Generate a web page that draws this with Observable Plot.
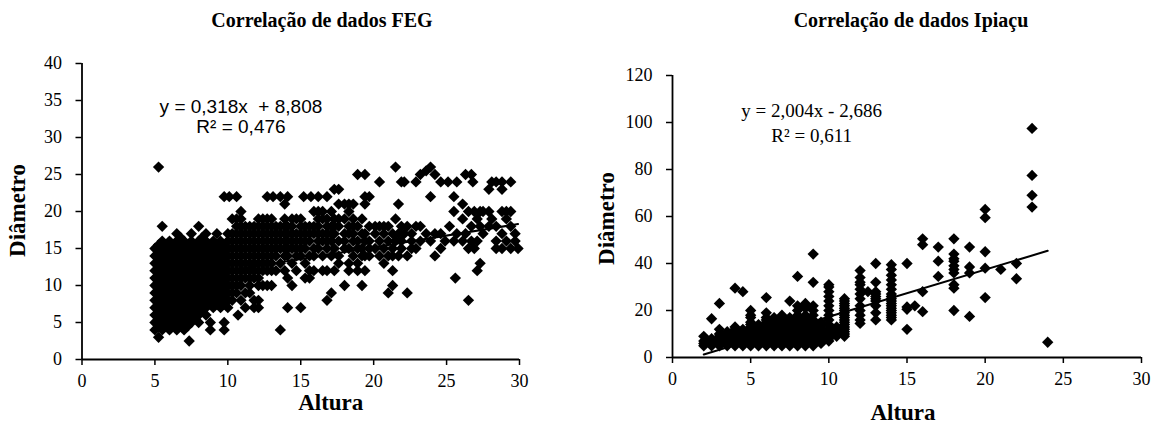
<!DOCTYPE html>
<html><head><meta charset="utf-8">
<script src="https://cdn.jsdelivr.net/npm/d3@7"></script>
<script src="https://cdn.jsdelivr.net/npm/@observablehq/plot@0.6"></script>
<style>
body{margin:0;background:#fff;}
#wrap{position:relative;width:1157px;height:430px;overflow:hidden;font-family:"Liberation Serif","Times New Roman",serif;color:#000;}
.panel{position:absolute;top:0;height:430px;}
.title{position:absolute;font-weight:bold;font-size:20px;white-space:nowrap;transform:translate(-50%,-50%);line-height:1;}
</style></head><body>
<div id="wrap"></div>
<script>
// ---------- texts ----------
const fegTitle = "Correlação de dados FEG";
const ipiTitle = "Correlação de dados Ipiaçu";
const xLabel = "Altura";
const yLabel = "Diâmetro";
const fegEquation = ["y = 0,318x\u00a0 + 8,808", "R² = 0,476"];
const ipiEquation = ["y = 2,004x - 2,686", "R² = 0,611"];

// ---------- ticks ----------
const fegXTicks = [0, 5, 10, 15, 20, 25, 30];
const fegYTicks = [0, 5, 10, 15, 20, 25, 30, 35, 40];
const ipiXTicks = [0, 5, 10, 15, 20, 25, 30];
const ipiYTicks = [0, 20, 40, 60, 80, 100, 120];

// ---------- trend lines (end points) ----------
const fegTrendAltura = [5, 29.9];
const fegTrendDiametro = [10.4, 18.3];
const ipiTrendAltura = [2, 24];
const ipiTrendDiametro = [1.3, 45.4];

// ---------- FEG data: [altura, [diametros...]] ----------
const fegColumns = [
  [5.0,[4,5,6,7,8,9,10,11,12,13,14,15]],
  [5.25,[3,4.5,5.5,6.5,7.5,8.5,9.5,10.5,11.5,12.5,13.5,14.5,15.5,26]],
  [5.5,[4,5,6,7,8,9,10,11,12,13,14,15,16,18]],
  [5.75,[4.5,5.5,6.5,7.5,8.5,9.5,10.5,11.5,12.5,13.5,14.5,15.5]],
  [6.0,[4,5,6,7,8,9,10,11,12,13,14,15,16]],
  [6.25,[4.5,5.5,6.5,7.5,8.5,9.5,10.5,11.5,12.5,13.5,14.5,15.5]],
  [6.5,[4,5,6,7,8,9,10,11,12,13,14,15,16,17]],
  [6.75,[4.5,5.5,6.5,7.5,8.5,9.5,10.5,11.5,12.5,13.5,14.5,15.5,16.5]],
  [7.0,[4,5,6,7,8,9,10,11,12,13,14,15,16]],
  [7.25,[4.5,5.5,6.5,7.5,8.5,9.5,10.5,11.5,12.5,13.5,14.5,15.5]],
  [7.35,[2.5]],
  [7.5,[5,6,7,8,9,10,11,12,13,14,15,16,17]],
  [7.75,[5.5,6.5,7.5,8.5,9.5,10.5,11.5,12.5,13.5,14.5,15.5]],
  [8.0,[5,6,7,8,9,10,11,12,13,14,15,16,18]],
  [8.25,[6.5,7.5,8.5,9.5,10.5,11.5,12.5,13.5,14.5,15.5,16.5]],
  [8.5,[6,7,8,9,10,11,12,13,14,15,16,17]],
  [8.8,[4,5,7.5,8.5,9.5,10.5,11.5,12.5,13.5,14.5,15.5]],
  [9.0,[7,8,9,10,11,12,13,14,15,16]],
  [9.25,[7.5,8.5,9.5,10.5,11.5,12.5,13.5,14.5,15.5,17]],
  [9.5,[7,8,9,10,11,12,13,14,15,16]],
  [9.75,[4,5,7.5,8.5,9.5,10.5,11.5,12.5,13.5,14.5,15.5,22]],
  [10.0,[7,8,9,10,11,12,13,14,15,16,17]],
  [10.1,[22]],
  [10.3,[8,9,10,11,12,13,14,15,16,17,19]],
  [10.6,[9,10,11,12,13,14,15,16,17,18,19,22]],
  [10.7,[6]],
  [10.9,[8,10,11,12,13,14,15,16,17,18,19,20]],
  [11.2,[7,9,11,12,13,14,15,16,17,18]],
  [11.5,[9,10,11,12,13,14,15,16,17,18]],
  [11.8,[7,8,11,12,13,14,15,16,17,18]],
  [12.1,[7,8,10,11,12,13,14,15,16,17,18,19]],
  [12.4,[10,12,13,14,15,16,17,18,19]],
  [12.7,[10,12,13,14,15,16,17,18,19,22]],
  [13.0,[10,12,13,14,15,16,17,18,19]],
  [13.1,[22]],
  [13.3,[12,14,15,16,17,18]],
  [13.6,[4,13,15,16,17,18,22]],
  [13.9,[12,14,15,16,17,18,19,21]],
  [14.1,[7,11,14,15,16,17,18,22]],
  [14.4,[10,13,15,16,17,18,19]],
  [14.7,[12,14,15,16,17,19]],
  [15.0,[7,14,15,16,17,18,19]],
  [15.2,[22]],
  [15.3,[11,13,15,16,17,18]],
  [15.6,[11,12,14,16,17,18]],
  [15.7,[22]],
  [15.9,[12,14,15,17,18,20]],
  [16.2,[15,16,17,18,19,20,22]],
  [16.5,[12,14,16,17,19,20]],
  [16.8,[8,12,15,16,17,18,19,22]],
  [17.1,[9,14,16,17,18,20]],
  [17.3,[12,15,17,18,19,23]],
  [17.6,[13,14,16,18,19,21,23]],
  [18.0,[10,15,16,17,19,21]],
  [18.3,[12,13,15,17,18,20,21]],
  [18.6,[14,16,17,18,19,21]],
  [18.9,[12,13,15,16,18,25]],
  [19.2,[10,14,15,17,19]],
  [19.4,[12,14,16,17,21,22,25]],
  [19.7,[14,15,16,18,22]],
  [20.1,[15,17,18]],
  [20.4,[14,16,18,24]],
  [20.7,[13,15,17,18]],
  [21.0,[9,14,16,18]],
  [21.3,[10,12,14,15,17]],
  [21.5,[16,19,26]],
  [21.7,[14,17,21]],
  [21.9,[15,16,18,24]],
  [22.1,[17,24]],
  [22.3,[9,14,18]],
  [22.6,[15,16,17]],
  [22.9,[15,18,24]],
  [23.2,[16,18,25]],
  [23.6,[17,25.5]],
  [23.9,[16,22,26]],
  [24.2,[14,17,25]],
  [24.6,[15,17,24]],
  [24.9,[16]],
  [25.1,[24]],
  [25.2,[18]],
  [25.5,[16,20,22]],
  [25.6,[11]],
  [25.7,[17,24]],
  [26.1,[16,19,21]],
  [26.3,[17,25]],
  [26.5,[8,15,20]],
  [26.7,[16,18,25]],
  [26.8,[24]],
  [26.9,[15,20]],
  [27.1,[12,16,19]],
  [27.3,[13,18,20]],
  [27.5,[17,20]],
  [27.9,[18,20,23]],
  [28.1,[19,24]],
  [28.4,[15,16,18,24]],
  [28.8,[15,17,20,23,24]],
  [29.1,[16,19,20]],
  [29.4,[15,18,20,24]],
  [29.7,[16,17]],
  [29.9,[15]]
];

// ---------- Ipiaçu data: [altura, [diametros...]] ----------
const ipiColumns = [
  [2.0,[5,6,7,9]],
  [2.5,[5,6,7,8,16.5]],
  [3.0,[5,6,7,8,9,10,12,23]],
  [3.5,[5,6,7,8,9,10,11]],
  [4.0,[5,6,7,8,9,10,11,12,13,29.5]],
  [4.5,[5,6,7,8,9,10,11,12,28]],
  [5.0,[5,6,7,8,9,10,11,12,13,14,15,17,18,20]],
  [5.5,[5,6,7,8,9,10,11,12,13,14]],
  [6.0,[5,6,7,8,9,10,11,12,13,14,15,16,17,19,25.5]],
  [6.5,[5,6,7,8,9,10,11,12,13,14,15,16,17]],
  [7.0,[5,6,7,8,9,10,11,12,13,14,15,16,17,18]],
  [7.5,[5,6,7,8,9,10,11,12,13,14,15,16,17,24]],
  [8.0,[5,6,7,8,9,10,11,12,13,14,15,16,17,18,20,22,34.5]],
  [8.5,[5,6,7,8,9,10,11,12,13,14,15,16,17,18,21,23]],
  [9.0,[5,6,7,8,9,10,11,12,13,14,15,16,18,20,22,32,44]],
  [9.5,[6,7,8,9,10,11,12,13,14,15]],
  [10.0,[7,8,9,10,12,14,16,18,20,22,24,26,28,30,31]],
  [10.5,[9,10,11,12,13]],
  [11.0,[9,10,11,12,13,14,15,16,17,18,19,20,21,22,23,24,25]],
  [12.0,[14.5,16,18,20,22,25,27,29,31,32,34,37]],
  [12.5,[28]],
  [13.0,[16,19,22,24,25,26,27,28,32,40]],
  [14.0,[16,17,18,19,20,21,22,23,24,25,26,27,29,31,33,35,37.5,39.5]],
  [15.0,[12,20.5,21.5,40]],
  [15.5,[22]],
  [16.0,[19.5,28,48,50.5]],
  [17.0,[34.5,41,47]],
  [18.0,[20,29.5,31,36,37.5,39,41,42,44,50.5]],
  [19.0,[17.5,36,38.5,47]],
  [20.0,[25.5,38,45,59.5,63]],
  [21.0,[37.5]],
  [22.0,[33.5,40]],
  [23.0,[64,69,77.5,97.5]],
  [24.0,[6.5]]
];

// ---------- drawing ----------
const serif = "'Liberation Serif','Times New Roman',serif";
const sans = "'Liberation Sans',Arial,sans-serif";

function flatten(cols) {
  return cols.flatMap(([a, ds]) => ds.map(d => ({altura: a, diametro: d})));
}

function makeChart(cfg) {
  const pts = flatten(cfg.columns);
  const trend = cfg.trendX.map((a, i) => ({altura: a, diametro: cfg.trendY[i]}));
  const eq = cfg.equation.map((t, i) => ({t, altura: cfg.eqX, diametro: cfg.eqY[i]}));
  return Plot.plot({
    width: cfg.width, height: 430,
    marginLeft: cfg.ml, marginRight: cfg.mr, marginTop: cfg.mt, marginBottom: cfg.mb,
    style: {fontFamily: serif, fontSize: "18px", color: "#000", background: "transparent", overflow: "visible"},
    x: {domain: [0, 30], label: null},
    y: {domain: cfg.yDomain, label: null},
    marks: [
      Plot.axisX(cfg.xTicks, {tickSize: 6, tickPadding: 9, label: null, fontSize: 18, strokeWidth: 1.5}),
      Plot.axisY(cfg.yTicks, {tickSize: 6, tickPadding: 14, label: null, fontSize: 18, strokeWidth: 1.5}),
      Plot.dot(pts, {x: "altura", y: "diametro", symbol: "diamond2", r: 5.1, fill: "#000"}),
      Plot.line(trend, {x: "altura", y: "diametro", stroke: "#000", strokeWidth: 2}),
      Plot.ruleX([0], {stroke: "#000", strokeWidth: 1.8}),
      Plot.ruleY([0], {stroke: "#000", strokeWidth: 1.8}),
      Plot.text(eq, {x: "altura", y: "diametro", text: "t", fontFamily: cfg.eqFont, fontSize: cfg.eqSize}),
      Plot.text([xLabel], {frameAnchor: "bottom", textAnchor: "middle", lineAnchor: "middle",
        dx: cfg.xlDx, dy: cfg.xlDy, fontWeight: "bold", fontSize: 23}),
      Plot.text([yLabel], {frameAnchor: "left", textAnchor: "middle", lineAnchor: "middle",
        dx: cfg.ylDx, dy: cfg.ylDy, rotate: -90, fontWeight: "bold", fontSize: 23})
    ]
  });
}

const panels = [
  {left: 0, width: 580, ml: 81.5, mr: 61, mt: 63, mb: 71,
   columns: fegColumns, xTicks: fegXTicks, yTicks: fegYTicks, yDomain: [0, 40],
   trendX: fegTrendAltura, trendY: fegTrendDiametro,
   equation: fegEquation, eqX: 10.9, eqY: [34.2, 31.4], eqFont: sans, eqSize: 19,
   xlDx: 30, xlDy: 43, ylDx: -64, ylDy: -1,
   title: fegTitle, titleX: 322, titleY: 20},
  {left: 577, width: 580, ml: 95, mr: 16, mt: 75, mb: 73,
   columns: ipiColumns, xTicks: ipiXTicks, yTicks: ipiYTicks, yDomain: [0, 120],
   trendX: ipiTrendAltura, trendY: ipiTrendDiametro,
   equation: ipiEquation, eqX: 8.9, eqY: [105, 94.5], eqFont: serif, eqSize: 19,
   xlDx: -4, xlDy: 55, ylDx: -65.5, ylDy: 2,
   title: ipiTitle, titleX: 911 - 577, titleY: 20}
];

const wrap = document.getElementById("wrap");
for (const p of panels) {
  const div = document.createElement("div");
  div.className = "panel";
  div.style.left = p.left + "px";
  div.style.width = p.width + "px";
  div.appendChild(makeChart(p));
  const t = document.createElement("div");
  t.className = "title";
  t.textContent = p.title;
  t.style.left = p.titleX + "px";
  t.style.top = p.titleY + "px";
  div.appendChild(t);
  wrap.appendChild(div);
}
</script></body></html>
